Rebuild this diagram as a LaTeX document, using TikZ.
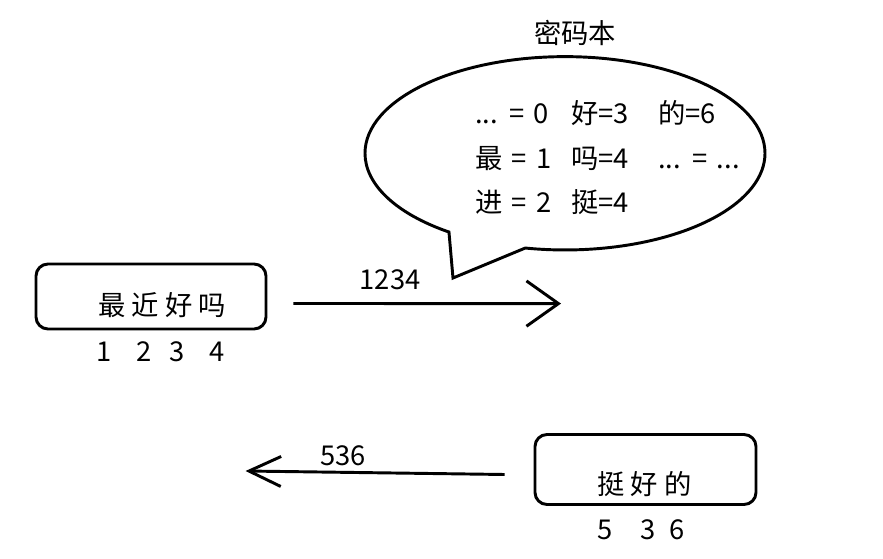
\documentclass[tikz,border=0pt]{standalone}
\usepackage{fontspec}
\newfontfamily\cjkfont{Noto Sans CJK SC}
\newcommand\codefont{\cjkfont\fontsize{20.5}{33.5}\selectfont\spaceskip 7pt\relax}
\usetikzlibrary{shapes.callouts, arrows.meta, positioning}

\begin{document}
\begin{tikzpicture}[x=0.75pt, y=0.75pt,
  every node/.style={font=\cjkfont\fontsize{20.5}{33.5}\selectfont, inner sep=0pt},
  msgbox/.style={rectangle, draw, line width=2.2pt, rounded corners=9pt},
  codecol/.style={anchor=base west, align=left, font=\codefont},
  bubble/.style={ellipse callout, draw, line width=2.2pt, minimum width=300pt, minimum height=145pt, callout pointer arc=24}]
\useasboundingbox (0,0) rectangle (883,558);
% codebook
\node (booktitle) at (575,525) {密码本};
\node[bubble, callout absolute pointer={(453,280)}] (book) at (565,404.7) {};
\node[codecol] (col1) at (475,345.3) {... = 0\\最 = 1\\进 = 2};
\node[codecol] (col2) at (571,345.3) {好=3\\吗=4\\挺=4};
\node[codecol] (col3) at (658,389.7) {的=6\\... = ...};

% sending
\node[msgbox, minimum width=172.5pt, minimum height=48.75pt] (sendbox) at (151,261.5) {};
\node (sendmsg) at (162,253) {最 近 好 吗};
\node (sendnums) at (160.75,206) {1\hspace{18.4pt}2\hspace{13.5pt}3\hspace{18.8pt}4};
\coordinate (sendtip) at (561,254.4);
\draw[line width=2.2pt, -{Straight Barb[length=24pt, width=34pt]}] ([shift={(26,-7)}]sendbox.east) -- (sendtip);
\node (sendcode) at (390,278) {1234};

% reply
\node[msgbox, minimum width=165.75pt, minimum height=52.5pt] (replybox) at (645.5,88.5) {};
\node (replymsg) at (644.5,74) {挺 好 的};
\node (replynums) at (641,28) {5\hspace{21pt}3\hspace{10.5pt}6};
\coordinate (replytip) at (245.5,87);
\draw[line width=2.2pt, -{Straight Barb[length=24pt, width=22.5pt]}] ([shift={(-29,-5)}]replybox.west) -- (replytip);
\node (replycode) at (343,102) {536};
\end{tikzpicture}
\end{document}
